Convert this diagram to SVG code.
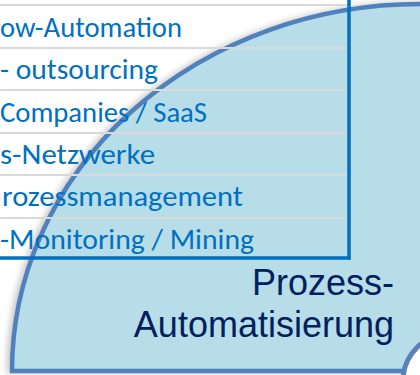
<svg xmlns="http://www.w3.org/2000/svg" width="420" height="375" viewBox="0 0 420 375">
<defs>
<style>
.row{font-family:Carlito,Lato,"Open Sans",sans-serif;font-size:28px;fill:#0070C0}
.sep{stroke:#D9D9D9;stroke-width:2}
.big{font-family:"Liberation Sans",Arial,sans-serif;font-size:36px;fill:#002060;text-anchor:end}
</style>
<filter id="sh" x="-10%" y="-10%" width="120%" height="120%">
<feDropShadow dx="-3" dy="0" stdDeviation="3" flood-color="#808080" flood-opacity="0.45"/>
</filter>
</defs>
<rect width="420" height="375" fill="#FFFFFF"/>
<g id="quadrant">
<path d="M12,371 A408,367 0 0 1 420,4 L432,4 L432,371 Z" fill="#B7DDE8" stroke="#4F81BD" stroke-width="4.5" filter="url(#sh)"/>
<circle cx="450" cy="381" r="47" fill="#FFFFFF" stroke="#5E80B8" stroke-width="5"/>
</g>
<g id="table">
<line class="sep" x1="0" y1="5" x2="348" y2="5"/>
<line class="sep" x1="0" y1="48" x2="348" y2="48"/>
<line class="sep" x1="0" y1="90" x2="348" y2="90"/>
<line class="sep" x1="0" y1="133" x2="348" y2="133"/>
<line class="sep" x1="0" y1="175" x2="348" y2="175"/>
<line class="sep" x1="0" y1="218" x2="348" y2="218"/>
<text class="row" x="0" y="37" textLength="182" lengthAdjust="spacingAndGlyphs">ow-Automation</text>
<text class="row" x="0" y="79" textLength="158" lengthAdjust="spacingAndGlyphs">- outsourcing</text>
<text class="row" x="0" y="122" textLength="207" lengthAdjust="spacingAndGlyphs">Companies / SaaS</text>
<text class="row" x="0" y="164" textLength="155" lengthAdjust="spacingAndGlyphs">s-Netzwerke</text>
<text class="row" x="2" y="206" textLength="241" lengthAdjust="spacingAndGlyphs">rozessmanagement</text>
<text class="row" x="0" y="249" textLength="254" lengthAdjust="spacingAndGlyphs">-Monitoring / Mining</text>
<line x1="349" y1="0" x2="349" y2="259.5" stroke="#0070C0" stroke-width="3.5"/>
<line x1="0" y1="258" x2="350.5" y2="258" stroke="#0070C0" stroke-width="3.5"/>
</g>
<g id="label">
<text class="big" x="394" y="295">Prozess-</text>
<text class="big" x="394" y="337">Automatisierung</text>
</g>
<g id="connectors"/>
</svg>
